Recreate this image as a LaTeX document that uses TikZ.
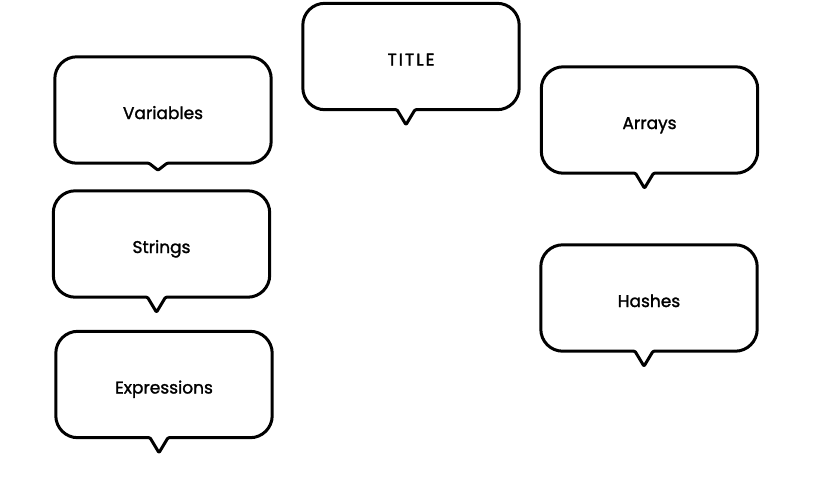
\documentclass[tikz,border=0pt]{standalone}
\usepackage{fontspec}
\setmainfont{Poppins}[FakeBold=1.5]
\usetikzlibrary{positioning}
\newcommand{\mTailDepth}{15pt}
\tikzset{
  bubble/.style={minimum width=216pt, minimum height=106pt, inner sep=0pt,
    text height=18pt, text depth=0pt,
    font=\fontsize{17}{20}\selectfont,
    append after command={\pgfextra{
      \draw[line width=3pt, line join=round, line cap=round]
        ([xshift=-14pt]\tikzlastnode.south) [rounded corners=1pt]
        -- ([xshift=-5pt,yshift=-\mTailDepth]\tikzlastnode.south)
        -- ([xshift=4pt]\tikzlastnode.south) [rounded corners=22pt]
        -- (\tikzlastnode.south east) -- (\tikzlastnode.north east)
        -- (\tikzlastnode.north west) -- (\tikzlastnode.south west)
        [rounded corners=1pt] -- cycle;
    }}},
}

\begin{document}
\begin{tikzpicture}[x=1pt, y=-1pt]
    \useasboundingbox (0,0) rectangle (822,499);
    \node[bubble] (title) at (411,56.5) {\addfontfeature{LetterSpace=12,FakeBold=1.8}TITLE};
    \renewcommand{\mTailDepth}{7pt}
    \node[bubble] (vars) at (163,110) {Variables};
    \renewcommand{\mTailDepth}{15pt}
    \node[bubble] (strs) at (161.5,244) {Strings};
    \node[bubble] (exprs) at (164,384.5) {Expressions};
    \node[bubble] (arrs) at (649.5,120) {Arrays};
    \node[bubble] (hashes) at (649,298) {Hashes};
\end{tikzpicture}
\end{document}
